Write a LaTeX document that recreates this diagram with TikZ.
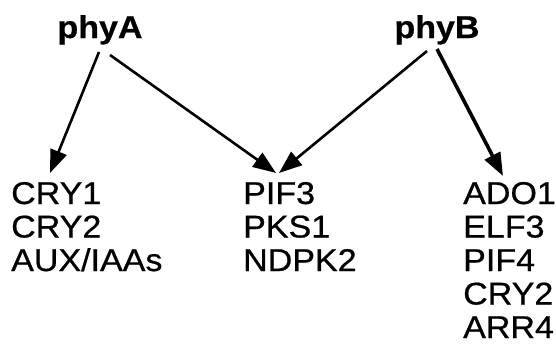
\documentclass[tikz,border=0pt]{standalone}
\usepackage{fontspec}
\setmainfont[FakeStretch=1.08,FakeBold=0.6]{Liberation Sans}
\usetikzlibrary{arrows.meta}
\begin{document}
\begin{tikzpicture}[x=1pt,y=-1pt,
  lbl/.style={anchor=base west,inner sep=0pt,font=\fontsize{31.5}{33.5}\selectfont},
  head/.style={anchor=base,inner sep=0pt,font=\fontsize{31.5}{33.5}\selectfont\bfseries},
  arr/.style={line width=2.6pt,-{Triangle[length=23pt,width=17pt]}},
  arrb/.style={line width=3.6pt,-{Triangle[length=23pt,width=17pt]}}]
\useasboundingbox (0,0) rectangle (556,345);
\node[head] (phyA) at (100,38) {phyA};
\node[head] (phyB) at (437,38) {phyB};
% left column
\node[lbl] (cry1) at (11,204) {CRY1};
\node[lbl] (cry2a) at (11,237.5) {CRY2};
\node[lbl] (aux) at (11,271) {AUX/IAAs};
% middle column
\node[lbl] (pif3) at (243,204) {PIF3};
\node[lbl] (pks1) at (243,237.5) {PKS1};
\node[lbl] (ndpk2) at (243,271) {NDPK2};
% right column
\node[lbl] (ado1) at (463,204) {ADO1};
\node[lbl] (elf3) at (463,237.5) {ELF3};
\node[lbl] (pif4) at (463,271) {PIF4};
\node[lbl] (cry2b) at (463,304.5) {CRY2};
\node[lbl] (arr4) at (463,338) {ARR4};
% connector end points
\coordinate (a1) at (99,52);
\coordinate (a2) at (110,55);
\coordinate (b1) at (427,51);
\coordinate (b2) at (437,49);
\coordinate (t1) at (50,173);
\coordinate (t2) at (276,173);
\coordinate (t3) at (279,173);
\coordinate (t4) at (503,176);
\draw[arr] (a1) -- (t1);
\draw[arr] (a2) -- (t2);
\draw[arr] (b1) -- (t3);
\draw[arrb] (b2) -- (t4);
\end{tikzpicture}
\end{document}
